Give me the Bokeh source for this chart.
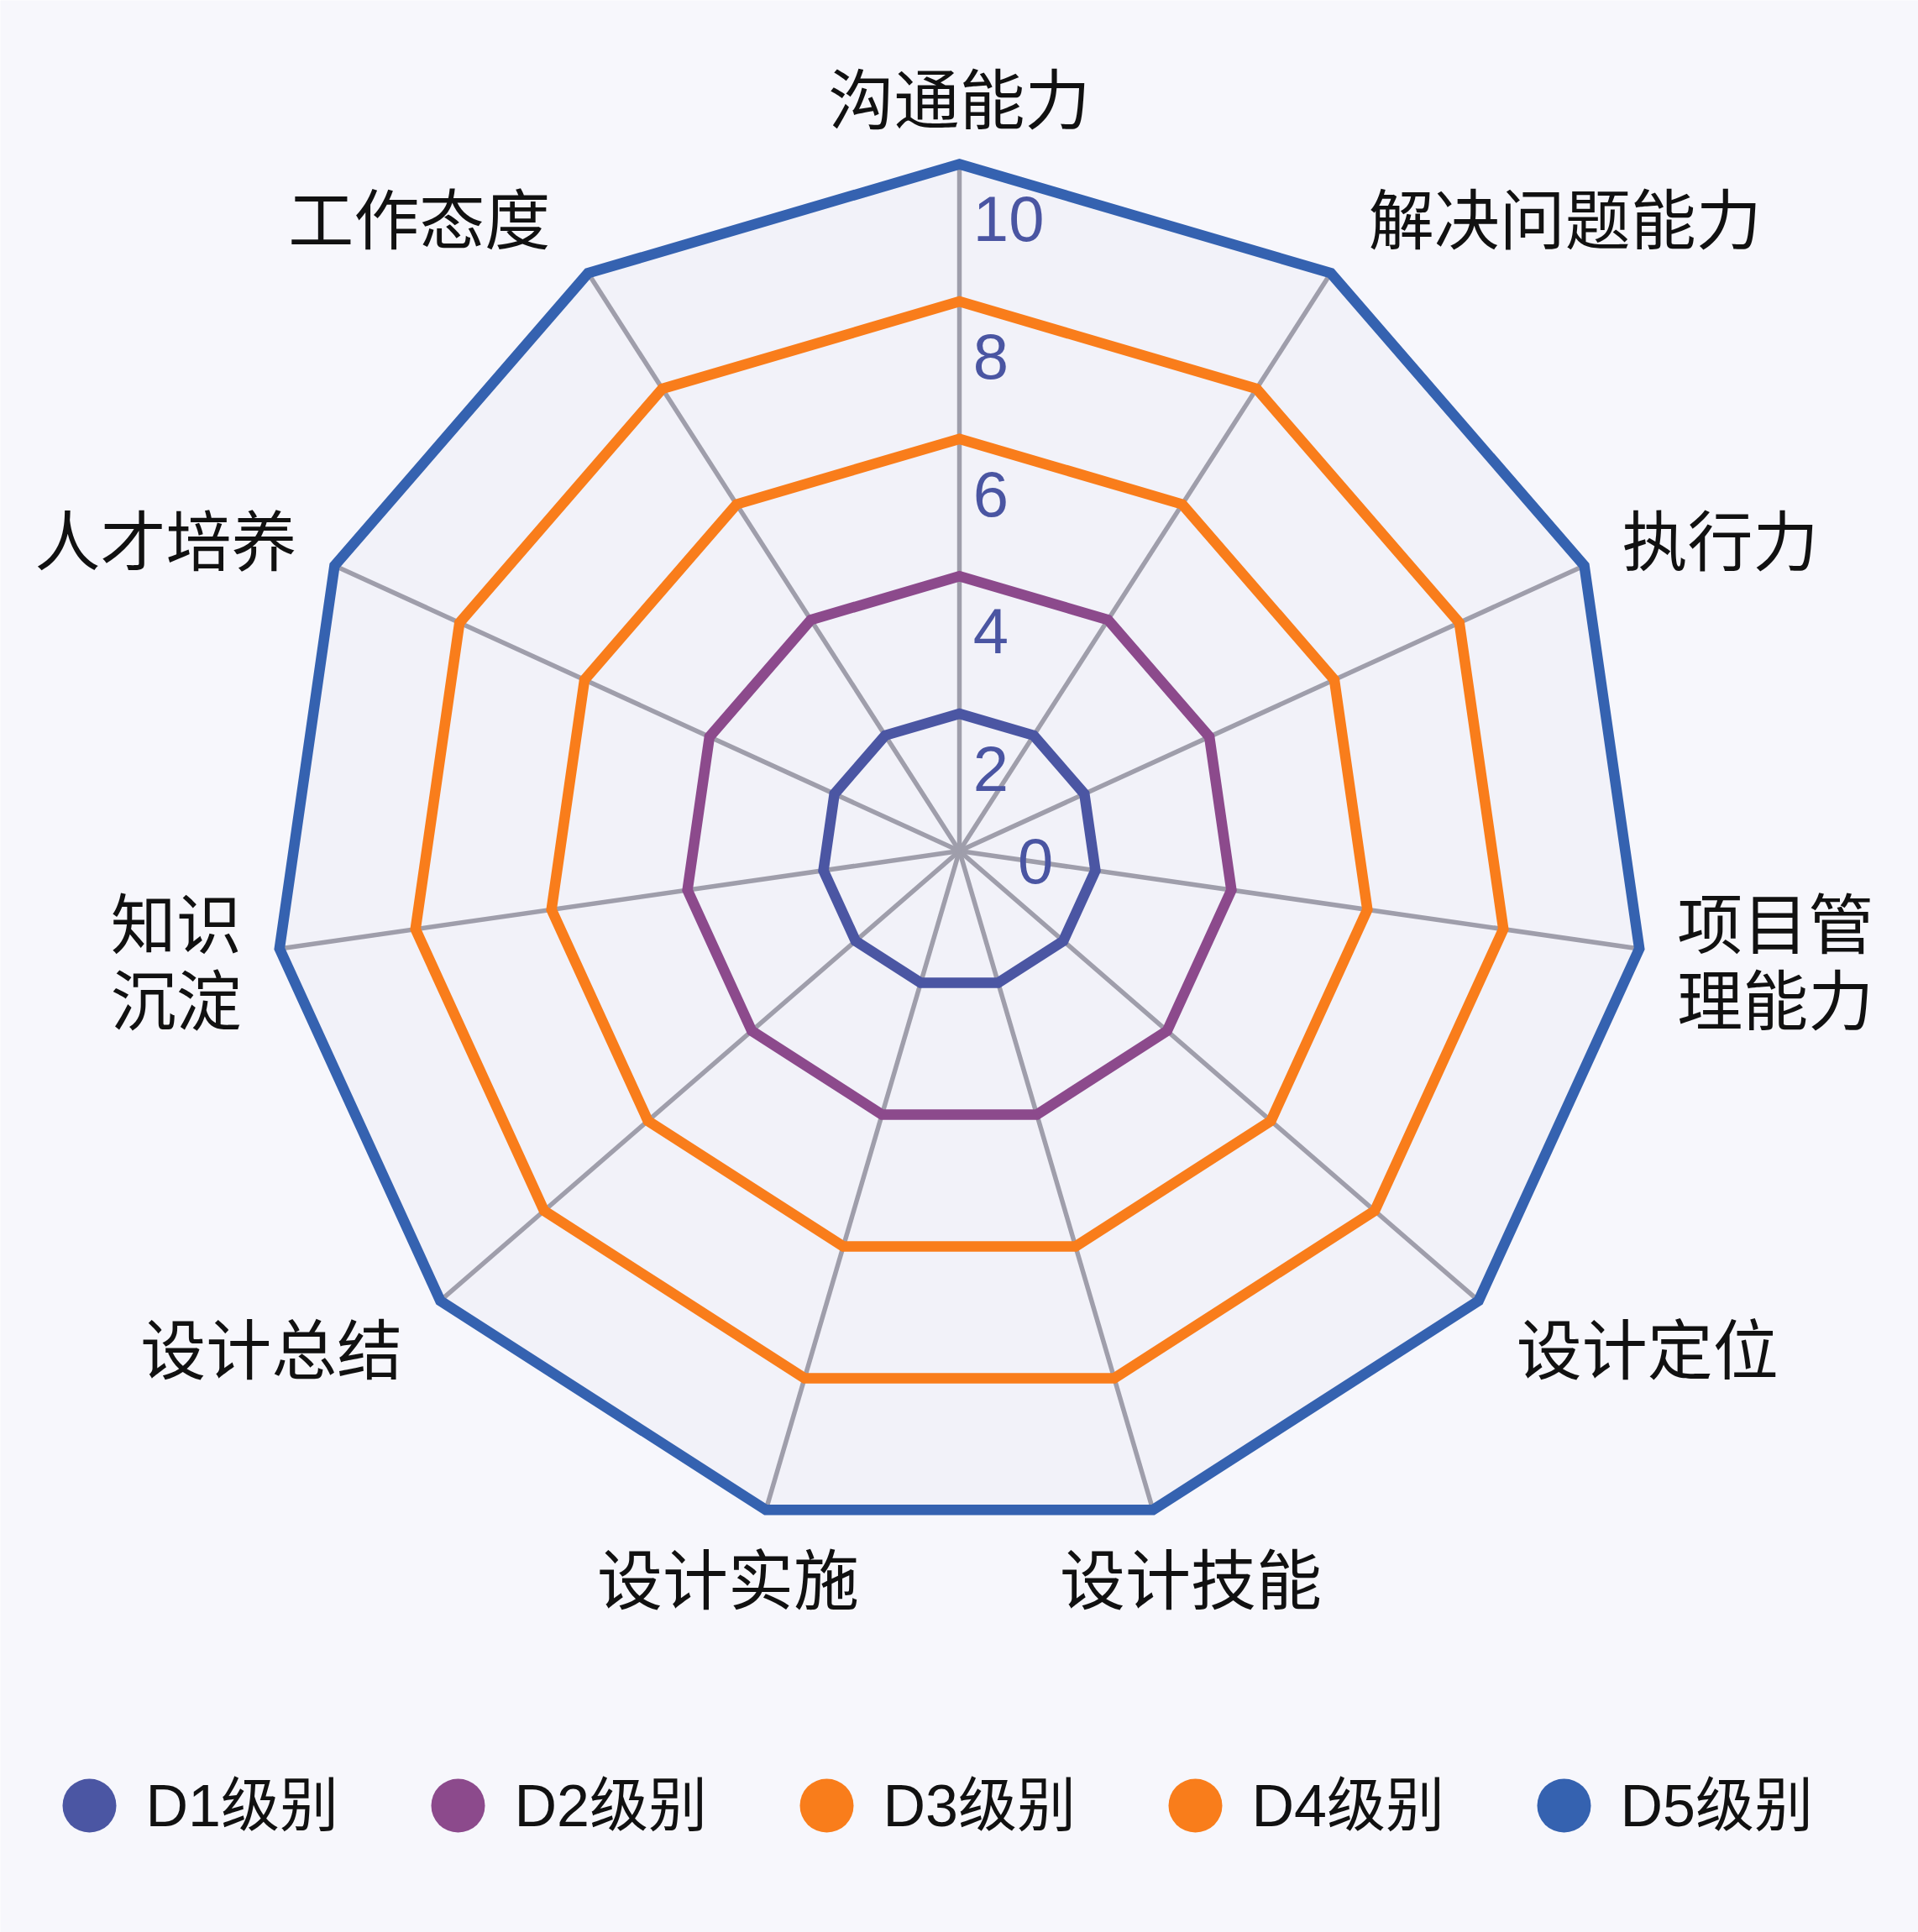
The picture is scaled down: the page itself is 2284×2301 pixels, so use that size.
import numpy as np
from bokeh.plotting import figure
from bokeh.models import ColumnDataSource, Range1d
from bokeh.core.properties import value
from bokeh.embed import file_html
from bokeh.resources import INLINE

# ---------------- data ----------------
categories = ["沟通能力", "解决问题能力", "执行力", "项目管\n理能力", "设计定位",
              "设计技能", "设计实施", "设计总结", "知识\n沉淀", "人才培养", "工作态度"]
series_names = ["D1级别", "D2级别", "D3级别", "D4级别", "D5级别"]
d1_values = [2, 2, 2, 2, 2, 2, 2, 2, 2, 2, 2]
d2_values = [4, 4, 4, 4, 4, 4, 4, 4, 4, 4, 4]
d3_values = [6, 6, 6, 6, 6, 6, 6, 6, 6, 6, 6]
d4_values = [8, 8, 8, 8, 8, 8, 8, 8, 8, 8, 8]
d5_values = [10, 10, 10, 10, 10, 10, 10, 10, 10, 10, 10]
tick_values = [0, 2, 4, 6, 8, 10]
tick_labels = ["0", "2", "4", "6", "8", "10"]

series_values = [d1_values, d2_values, d3_values, d4_values, d5_values]
series_colors = ["#4b56a3", "#8c4a8c", "#f97d1b", "#f97d1b", "#3562b0"]

# ---------------- layout ----------------
W, H = 2284, 2301
PX = 81.8          # pixels per value unit
CX, CY = 1142, 1013
BG = "#f7f7fc"
CJK = value("Noto Sans CJK SC")
LAT = value("Liberation Sans, Noto Sans CJK SC")

p = figure(width=W, height=H, output_backend="svg", toolbar_location=None,
           x_range=Range1d(-CX / PX, (W - CX) / PX),
           y_range=Range1d(-(H - CY) / PX, CY / PX),
           min_border=0, background_fill_color=BG, border_fill_color=BG)
p.axis.visible = False
p.grid.visible = False
p.outline_line_color = None

n = len(categories)
theta = 2 * np.pi * np.arange(n) / n
sx, cy = np.sin(theta), np.cos(theta)
vmax = max(tick_values)

# radar background
p.patch(list(vmax * sx), list(vmax * cy), fill_color="#f2f2f9", line_color=None)

# radial axis lines
p.segment(x0=[0] * n, y0=[0] * n, x1=list(vmax * sx), y1=list(vmax * cy),
          line_color="#9f9eab", line_width=5.5)

# series polygons
for vals, col in zip(series_values, series_colors):
    v = np.array(vals, dtype=float)
    p.patch(list(v * sx), list(v * cy), fill_color=None, line_color=col,
            line_width=12.5, line_join="miter")

# tick labels on the first axis
tx = [0.2 if t > 0 else 0.85 for t in tick_values]
ty = [t - 0.8 if t > 0 else -0.15 for t in tick_values]
p.text(x=tx, y=ty, text=tick_labels, text_font=LAT, text_font_size="76px",
       text_color="#4a55a2", text_align="left", text_baseline="middle")

# category labels
hgap, vgap = 0.55, 1.0
lx, ly, la = [], [], []
for k in range(n):
    dx, dy = sx[k], cy[k]
    sgn = 0.0 if abs(dx) < 1e-9 else np.sign(dx)
    lx.append(vmax * dx + hgap * sgn)
    ly.append(vmax * dy + vgap * dy)
    la.append("left" if dx > 0.3 else ("right" if dx < -0.3 else "center"))
src = ColumnDataSource(dict(x=lx, y=ly, text=categories, align=la))
p.text(x="x", y="y", text="text", source=src, text_align="align",
       text_baseline="middle", text_font=CJK, text_font_size="78px",
       text_color="#111111", text_line_height=0.82)

# legend (drawn manually)
leg_y = (CY - 2150) / PX
leg_x0 = (106 - CX) / PX
step = 439 / PX
leg_x = [leg_x0 + i * step for i in range(len(series_names))]
p.scatter(x=leg_x, y=[leg_y] * len(leg_x), size=64, color=series_colors, line_color=None)
p.text(x=[x + 67 / PX for x in leg_x], y=[leg_y] * len(leg_x), text=series_names,
       text_font=LAT, text_font_size="70px", text_color="#111111",
       text_align="left", text_baseline="middle")

open("out.html", "w").write(file_html(p, INLINE))
